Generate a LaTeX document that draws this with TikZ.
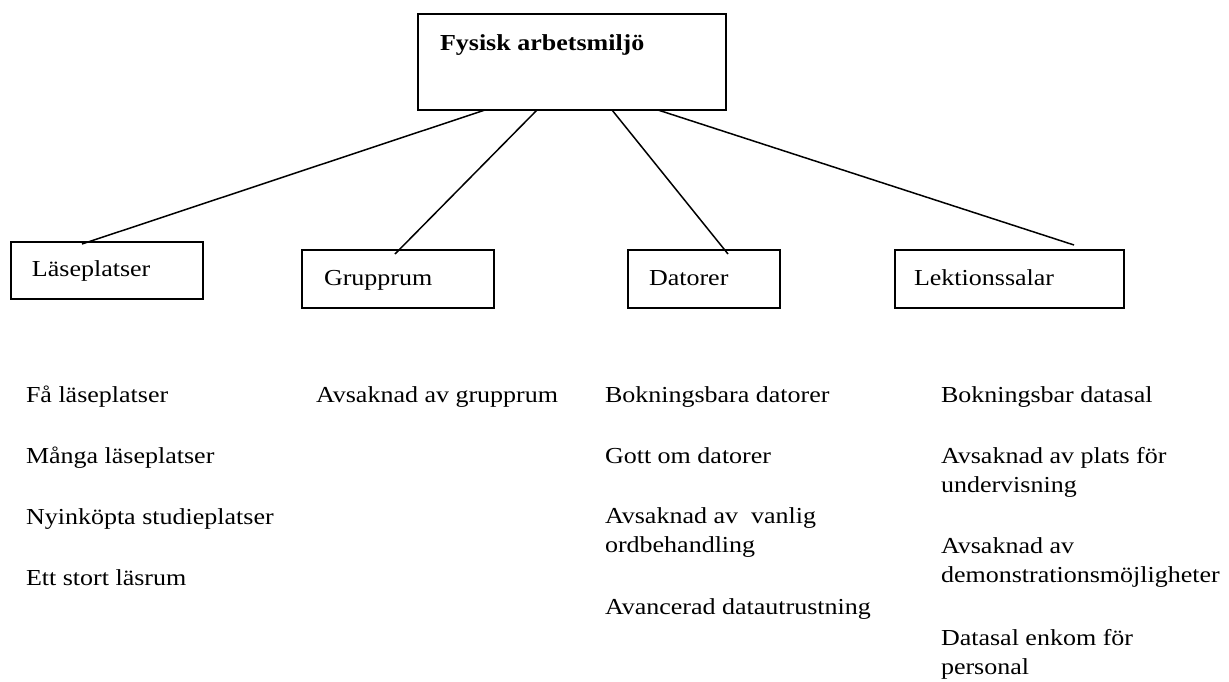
\documentclass[tikz,border=0pt]{standalone}
\usepackage{fontspec}
\usepackage{graphicx}
\setmainfont{Liberation Serif}
\newcommand{\sqz}[1]{\scalebox{1}[0.88]{#1}}
\begin{document}
\begin{tikzpicture}[x=0.5pt,y=-0.5pt,
  box/.style={draw,line width=0.75pt,inner sep=0pt,outer sep=0pt},
  lbl/.style={anchor=base west,inner sep=0pt,outer sep=0pt,font=\fontsize{13}{17}\selectfont},
  conn/.style={line width=0.75pt}]
\fill[white] (0,0) rectangle (1229,681);
\useasboundingbox (0,0) rectangle (1229,681);
% boxes
\node[box,minimum width=154pt,minimum height=48pt] (top) at (572,62) {};
\node[box,minimum width=96pt,minimum height=28.5pt] (lase) at (107,270.5) {};
\node[box,minimum width=96pt,minimum height=29pt] (grupp) at (398,279) {};
\node[box,minimum width=76pt,minimum height=29pt] (dator) at (704,279) {};
\node[box,minimum width=114.5pt,minimum height=29pt] (lekt) at (1009.5,279) {};
% box labels
\node[lbl,font=\fontsize{13}{17}\selectfont\bfseries] (toptxt) at (440,50) {\sqz{Fysisk arbetsmiljö}};
\node[lbl] (lasetxt) at (32,276) {\sqz{Läseplatser}};
\node[lbl] (grupptxt) at (324,285) {\sqz{Grupprum}};
\node[lbl] (datortxt) at (649,285) {\sqz{Datorer}};
\node[lbl] (lekttxt) at (914,285) {\sqz{Lektionssalar}};
% connectors
\draw[conn] ([xshift=33.5pt]top.south west) -- ([xshift=35.5pt,yshift=-1pt]lase.north west);
\draw[conn] ([xshift=59.5pt]top.south west) -- ([xshift=46.5pt,yshift=-2pt]grupp.north west);
\draw[conn] ([xshift=97pt]top.south west) -- ([xshift=50pt,yshift=-2pt]dator.north west);
\draw[conn] ([xshift=120pt]top.south west) -- ([xshift=89.5pt,yshift=2.5pt]lekt.north west);
% column 1
\node[lbl] (a1) at (26,402) {\sqz{Få läseplatser}};
\node[lbl] (a2) at (26,463) {\sqz{Många läseplatser}};
\node[lbl] (a3) at (26,524) {\sqz{Nyinköpta studieplatser}};
\node[lbl] (a4) at (26,585) {\sqz{Ett stort läsrum}};
% column 2
\node[lbl] (b1) at (316,402) {\sqz{Avsaknad av grupprum}};
% column 3
\node[lbl] (c1) at (605,402) {\sqz{Bokningsbara datorer}};
\node[lbl] (c2) at (605,463) {\sqz{Gott om datorer}};
\node[lbl] (c3) at (605,523) {\sqz{\begin{tabular}[t]{@{}l@{}}Avsaknad av\ \ vanlig\\ordbehandling\end{tabular}}};
\node[lbl] (c4) at (605,614) {\sqz{Avancerad datautrustning}};
% column 4
\node[lbl] (d1) at (941,402) {\sqz{Bokningsbar datasal}};
\node[lbl] (d2) at (941,463) {\sqz{\begin{tabular}[t]{@{}l@{}}Avsaknad av plats för\\undervisning\end{tabular}}};
\node[lbl] (d3) at (941,553) {\sqz{\begin{tabular}[t]{@{}l@{}}Avsaknad av\\demonstrationsmöjligheter\end{tabular}}};
\node[lbl] (d4) at (941,645) {\sqz{\begin{tabular}[t]{@{}l@{}}Datasal enkom för\\personal\end{tabular}}};
\end{tikzpicture}
\end{document}
